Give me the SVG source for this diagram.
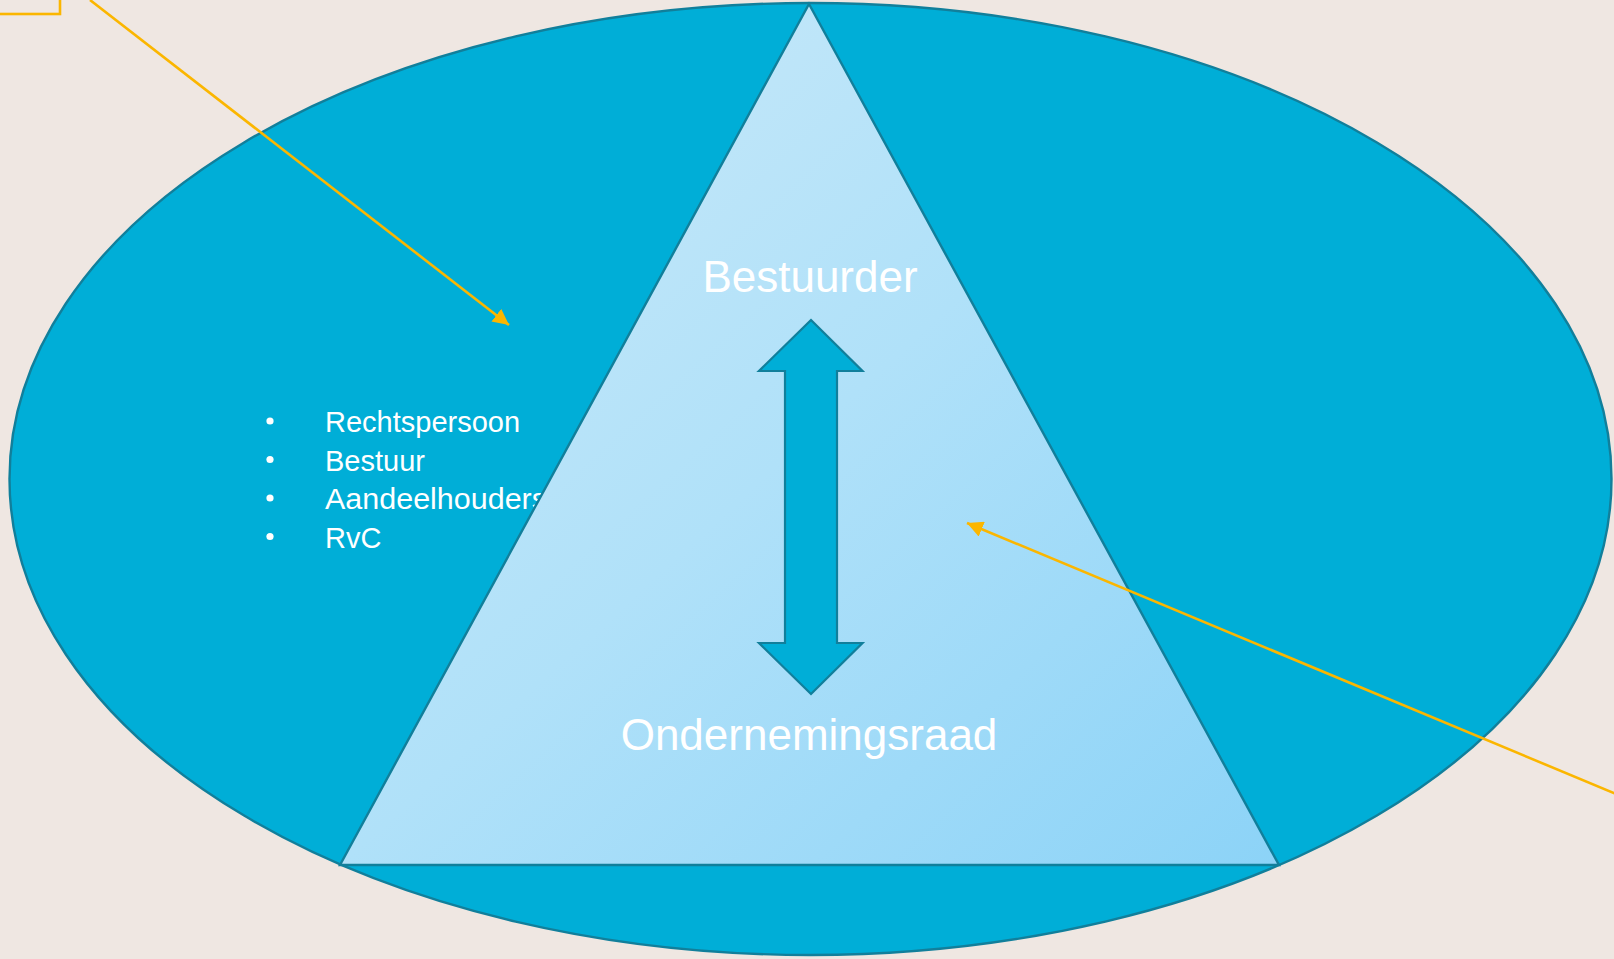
<svg xmlns="http://www.w3.org/2000/svg" width="1614" height="959" viewBox="0 0 1614 959">
<defs>
<linearGradient id="tri" x1="0" y1="0" x2="1" y2="1">
<stop offset="0" stop-color="#CDEAF9"/>
<stop offset="0.5" stop-color="#B0E1F9"/>
<stop offset="1" stop-color="#8CD3F7"/>
</linearGradient>
<marker id="arr" viewBox="0 0 10 10" refX="10" refY="5" markerWidth="16" markerHeight="16" markerUnits="userSpaceOnUse" orient="auto">
<path d="M0,0 L10,5 L0,10 z" fill="#FBB600"/>
</marker>
<style>
.bul{font-family:"Liberation Sans",Arial,sans-serif;font-size:29px;fill:#FFFFFF}
.big{font-family:"Liberation Sans",Arial,sans-serif;font-size:44px;fill:#FFFFFF;text-anchor:middle}
.conn{stroke:#FBB600;stroke-width:2.6;fill:none}
.dot{fill:#FFFFFF}
</style>
</defs>
<rect x="0" y="0" width="1614" height="959" fill="#EFE7E2"/>
<g id="ellipse">
<ellipse cx="810.5" cy="479" rx="801" ry="476" fill="#00AED7" stroke="#117F9B" stroke-width="2.4"/>
</g>
<g id="list">
<circle class="dot" cx="270" cy="421" r="3.6"/>
<circle class="dot" cx="270" cy="459.5" r="3.6"/>
<circle class="dot" cx="270" cy="498" r="3.6"/>
<circle class="dot" cx="270" cy="536.5" r="3.6"/>
<text class="bul" x="325" y="432">Rechtspersoon</text>
<text class="bul" x="325" y="470.5">Bestuur</text>
<text class="bul" x="325" y="509" textLength="222" lengthAdjust="spacingAndGlyphs">Aandeelhouders</text>
<text class="bul" x="325" y="547.5">RvC</text>
</g>
<g id="triangle">
<polygon points="809,4 1279,865 340,865" fill="url(#tri)" stroke="#117F9B" stroke-width="2.4" stroke-linejoin="miter"/>
</g>
<g id="double-arrow">
<polygon points="811,320 862.5,371 837,371 837,643 862.5,643 811,694 759,643 785,643 785,371 759,371" fill="#00AED7" stroke="#117F9B" stroke-width="2.2"/>
</g>
<g id="bestuurder">
<text class="big" x="810" y="292">Bestuurder</text>
</g>
<g id="ondernemingsraad">
<text class="big" x="809" y="750">Ondernemingsraad</text>
</g>
<g id="callout-box">
<rect x="-10" y="-10" width="70" height="24" class="conn"/>
</g>
<g id="connectors">
<line x1="90" y1="0" x2="509" y2="325" class="conn" marker-end="url(#arr)"/>
<line x1="1616" y1="794" x2="967" y2="523" class="conn" marker-end="url(#arr)"/>
</g>
</svg>
